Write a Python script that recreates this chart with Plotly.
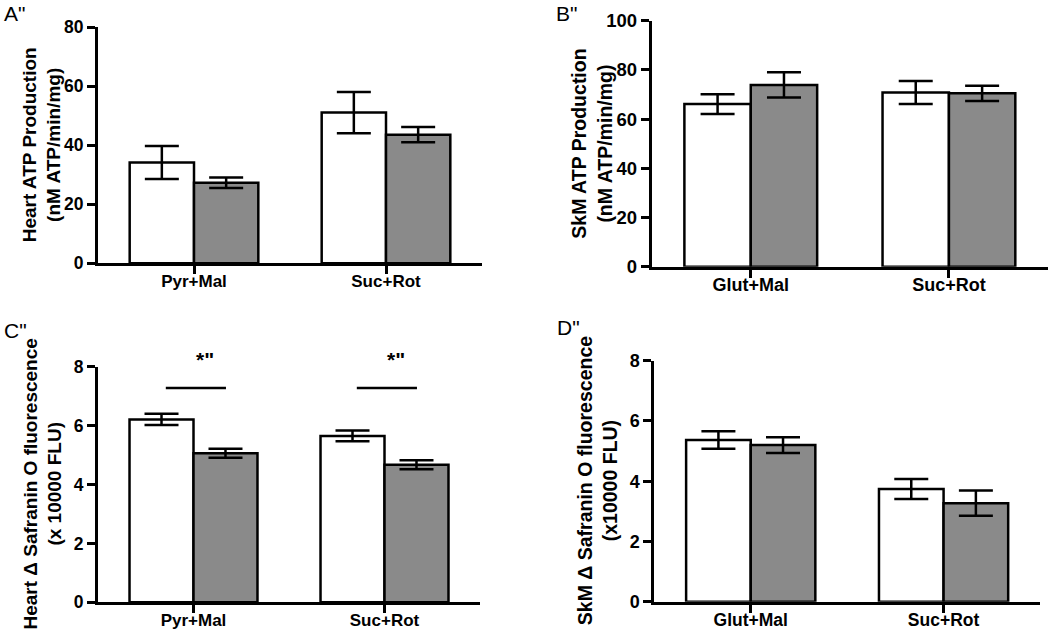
import plotly.graph_objects as go

# ---------------- data ----------------
catA = ["Pyr+Mal", "Suc+Rot"]
catB = ["Glut+Mal", "Suc+Rot"]

A_white = [34.2, 51.1]
A_white_err = [5.6, 7.0]
A_gray = [27.3, 43.6]
A_gray_err = [1.8, 2.6]

B_white = [66.1, 70.8]
B_white_err = [4.0, 4.7]
B_gray = [73.9, 70.5]
B_gray_err = [5.1, 3.1]

C_white = [6.21, 5.65]
C_white_err = [0.19, 0.18]
C_gray = [5.06, 4.67]
C_gray_err = [0.15, 0.15]

D_white = [5.37, 3.74]
D_white_err = [0.29, 0.33]
D_gray = [5.20, 3.27]
D_gray_err = [0.26, 0.42]

sig_C_level = 7.28
sig_C_text_level = 8.26
sig_C_text = '*"'

titles = {
    "A": "Heart ATP Production<br>(nM ATP/min/mg)",
    "B": "SkM ATP Production<br>(nM ATP/min/mg)",
    "C": "Heart Δ Safranin O fluorescence<br>(x 10000 FLU)",
    "D": "SkM Δ Safranin O fluorescence<br>(x10000 FLU)",
}
panel_letters = ['A"', 'B"', 'C"', 'D"']

# ---------------- style ----------------
FONT = "Liberation Sans, Arial, sans-serif"
WHITE = "#ffffff"
GRAY = "#8a8a8a"
W, H = 1050, 633

def px_x(p):
    return p / W

def px_y(p):
    return 1 - p / H

panels = [
    # key, cats, white, werr, gray, gerr, xdom(px), ydom(px top,bottom), ymax, dtick, title x px, tickfont, catfont, titlefont
    ("A", catA, A_white, A_white_err, A_gray, A_gray_err, (98, 482), (27.3, 263.3), 80, 20, 42, 17.5, 17, 19),
    ("B", catB, B_white, B_white_err, B_gray, B_gray_err, (651.7, 1048), (20.7, 266.7), 100, 20, 592, 18.5, 18, 19.5),
    ("C", catA, C_white, C_white_err, C_gray, C_gray_err, (98, 480), (366.7, 602.3), 8, 2, 42, 17.5, 17, 19),
    ("D", catB, D_white, D_white_err, D_gray, D_gray_err, (654.3, 1040), (360.7, 601.7), 8, 2, 597, 18, 17.5, 19.5),
]

fig = go.Figure()
layout = dict(
    width=W, height=H,
    margin=dict(l=0, r=0, t=0, b=0, autoexpand=False),
    paper_bgcolor="white", plot_bgcolor="white",
    showlegend=False,
    barmode="group", bargap=0.33, bargroupgap=0,
    font=dict(family=FONT, color="black"),
)
annotations = []
shapes = []

for i, (key, cats, wv, we, gv, ge, xd, yd, ymax, dt, tx, tfs, cfs, ttfs) in enumerate(panels):
    n = "" if i == 0 else str(i + 1)
    xa, ya = "x" + n, "y" + n
    for vals, errs, col in ((wv, we, WHITE), (gv, ge, GRAY)):
        fig.add_trace(go.Bar(
            x=cats, y=vals, xaxis=xa, yaxis=ya,
            marker=dict(color=col, line=dict(color="black", width=2.5)),
            error_y=dict(type="data", array=errs, visible=True,
                         color="black", thickness=2.5, width=17),
            offsetgroup=col,
        ))
    layout["xaxis" + n] = dict(
        domain=[px_x(xd[0]), px_x(xd[1])], anchor=ya,
        range=[-0.5, 1.5], type="category",
        showline=True, linecolor="black", linewidth=3,
        ticks="outside", ticklen=8, tickwidth=3, tickcolor="black",
        ticklabelstandoff=-8,
        tickfont=dict(family=FONT, size=cfs, color="black", weight="bold"),
        showgrid=False, zeroline=False, fixedrange=True,
    )
    layout["yaxis" + n] = dict(
        domain=[px_y(yd[1]), px_y(yd[0])], anchor=xa,
        range=[0, ymax], dtick=dt, tick0=0,
        showline=True, linecolor="black", linewidth=3,
        ticks="outside", ticklen=8, tickwidth=3, tickcolor="black",
        tickfont=dict(family=FONT, size=tfs, color="black", weight="bold"),
        showgrid=False, zeroline=False, fixedrange=True,
    )
    annotations.append(dict(
        text=titles[key], xref="paper", yref="paper",
        x=px_x(tx), y=px_y((yd[0] + yd[1]) / 2),
        xanchor="center", yanchor="middle", textangle=-90, showarrow=False,
        font=dict(family=FONT, size=ttfs, color="black", weight="bold"),
    ))

# panel letters
letter_pos = [(2, 14), (554, 14), (2, 330), (555, 328)]
for lt, (lx, ly) in zip(panel_letters, letter_pos):
    annotations.append(dict(
        text=lt, xref="paper", yref="paper", x=px_x(lx), y=px_y(ly),
        xanchor="left", yanchor="middle", showarrow=False,
        font=dict(family=FONT, size=21, color="black"),
    ))

# significance markers on panel C
C_ymax = 8
for ci in range(len(catA)):
    shapes.append(dict(type="line", xref="x3", yref="y3",
                       x0=ci - 0.145, x1=ci + 0.17, y0=sig_C_level, y1=sig_C_level,
                       line=dict(color="black", width=2.5)))
    annotations.append(dict(
        text=sig_C_text, xref="x3", yref="y3 domain", x=ci + 0.06,
        y=sig_C_text_level / C_ymax,
        xanchor="center", yanchor="middle", showarrow=False,
        font=dict(family=FONT, size=21, color="black", weight="bold"),
    ))

layout["annotations"] = annotations
layout["shapes"] = shapes
fig.update_layout(**layout)
fig.write_html(
    "out.html",
    config={"displayModeBar": False},
    post_script="document.body.style.margin='0';document.body.style.padding='0';"
                "document.body.style.overflow='hidden';",
)
